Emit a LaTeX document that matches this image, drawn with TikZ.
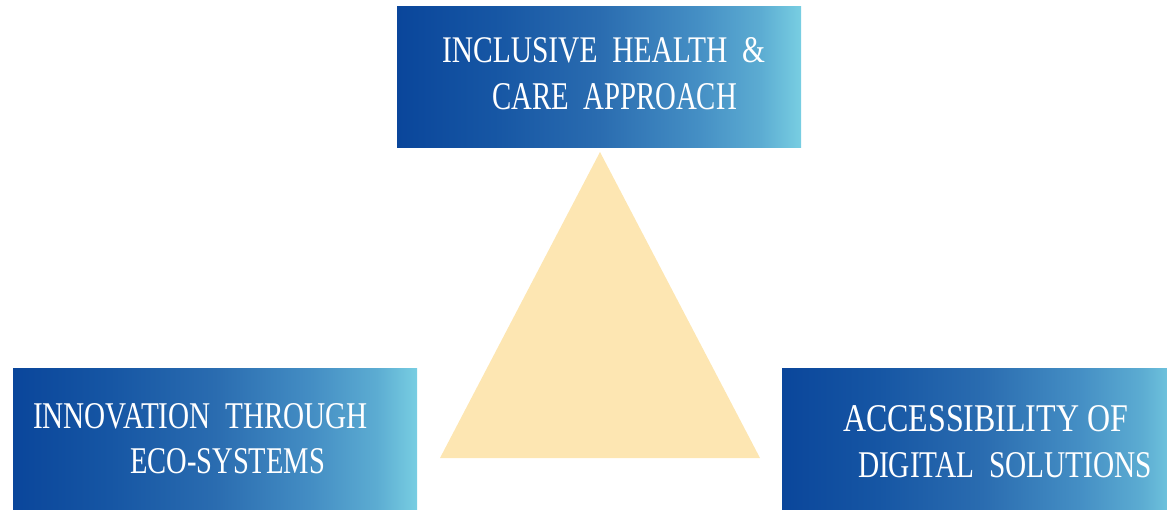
\documentclass[tikz,border=0pt]{standalone}
\usepackage{fontspec}
\setmainfont{Liberation Serif}
\usepackage{graphicx}
\definecolor{gA}{RGB}{10,70,155}
\definecolor{gB}{RGB}{22,86,164}
\definecolor{gC}{RGB}{42,108,176}
\definecolor{gD}{RGB}{68,142,196}
\definecolor{gE}{RGB}{92,172,210}
\definecolor{gF}{RGB}{120,206,226}
\definecolor{tri}{RGB}{253,230,178}
\pgfdeclarehorizontalshading{boxgrad}{100bp}{color(0bp)=(gA); color(25bp)=(gA); color(37bp)=(gB); color(50bp)=(gC); color(62bp)=(gD); color(70bp)=(gE); color(75bp)=(gF); color(100bp)=(gF)}
\tikzset{
  box/.style={rectangle, inner sep=0pt, outer sep=0pt, shading=boxgrad, draw=none},
  label/.style={anchor=base west, inner sep=0pt, outer sep=0pt, text=white, font=\rmfamily},
}
\newcommand{\fitline}[3]{\resizebox{#1pt}{#2pt}{#3}}
\begin{document}
\begin{tikzpicture}[x=1pt,y=1pt]
\useasboundingbox (0,0) rectangle (1167,509);
\begin{scope}
\clip (0,0) rectangle (1167,509);
% triangle
\fill[tri] (600,357) coordinate (apex) -- (440,51) coordinate (bl) -- (760,51) coordinate (br) -- cycle;
% boxes
\node[box, minimum width=404pt, minimum height=141pt, anchor=south west] (top) at (397,361) {};
\node[box, minimum width=404pt, minimum height=145pt, anchor=south west] (left) at (13,-5) {};
\node[box, minimum width=400pt, minimum height=145pt, anchor=south west] (right) at (782,-5) {};
\end{scope}
% labels
\node[label] (t1) at (442,446) {\fitline{323}{25}{INCLUSIVE\ \ HEALTH\ \ \&}};
\node[label] (t2) at (492,399) {\fitline{245}{26}{CARE\ \ APPROACH}};
\node[label] (l1) at (33,81) {\fitline{335}{25}{INNOVATION\ \ THROUGH}};
\node[label] (l2) at (130,36) {\fitline{195}{25}{ECO-SYSTEMS}};
\node[label] (r1) at (843,77) {\fitline{285}{26}{ACCESSIBILITY\ OF}};
\node[label] (r2) at (858,31) {\fitline{294}{25}{DIGITAL\ \ SOLUTIONS}};
\end{tikzpicture}
\end{document}
